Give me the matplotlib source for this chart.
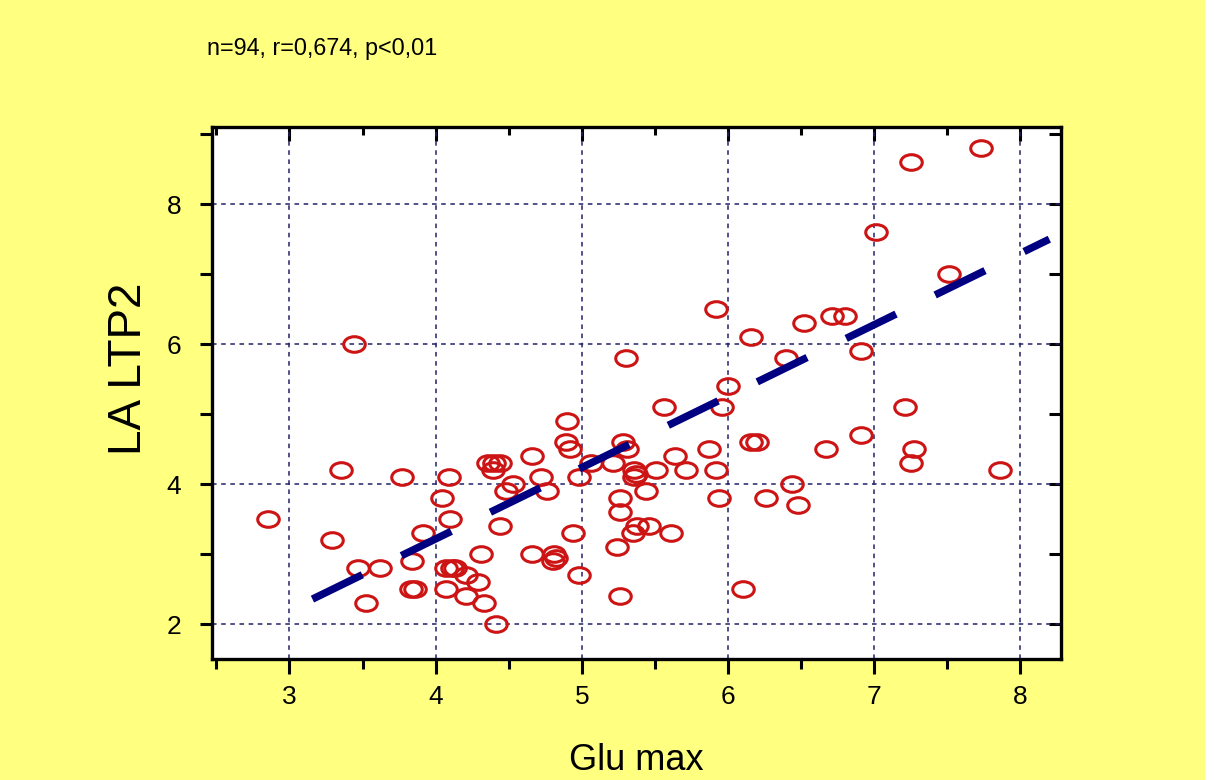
import matplotlib.pyplot as plt
import numpy as np
from matplotlib.path import Path
from matplotlib.patches import Rectangle

# Glu max (x) and LA LTP2 (y)
glu_max = [2.85, 3.29, 3.35, 3.44, 3.47, 3.52, 3.62, 3.77, 3.84, 3.83,
           3.86, 3.91, 4.04, 4.07, 4.09, 4.10, 4.07, 4.13, 4.21, 4.21,
           4.29, 4.31, 4.33, 4.41, 4.36, 4.44, 4.39, 4.44, 4.48, 4.53,
           4.66, 4.66, 4.72, 4.76, 4.81, 4.80, 4.90, 4.89, 4.92, 4.94,
           4.98, 4.98, 5.06, 5.21, 5.24, 5.26, 5.26, 5.26, 5.28, 5.31,
           5.30, 5.36, 5.36, 5.35, 5.38, 5.44, 5.46, 5.51, 5.56, 5.61,
           5.64, 5.71, 5.87, 5.92, 5.92, 5.94, 5.96, 6.00, 6.10, 6.16,
           6.16, 6.20, 6.26, 6.40, 6.44, 6.48, 6.52, 6.67, 6.71, 6.80,
           6.91, 6.91, 7.01, 7.21, 7.25, 7.25, 7.27, 7.51, 7.73, 7.86,
           4.40, 4.82, 5.37, 4.11]
la_ltp2 = [3.5, 3.2, 4.2, 6.0, 2.8, 2.3, 2.8, 4.1, 2.9, 2.5,
           2.5, 3.3, 3.8, 2.5, 4.1, 3.5, 2.8, 2.8, 2.7, 2.4,
           2.6, 3.0, 2.3, 2.0, 4.3, 4.3, 4.2, 3.4, 3.9, 4.0,
           4.4, 3.0, 4.1, 3.9, 3.0, 2.9, 4.9, 4.6, 4.5, 3.3,
           2.7, 4.1, 4.3, 4.3, 3.1, 3.8, 3.6, 2.4, 4.6, 4.5,
           5.8, 4.2, 4.1, 3.3, 3.4, 3.9, 3.4, 4.2, 5.1, 3.3,
           4.4, 4.2, 4.5, 6.5, 4.2, 3.8, 5.1, 5.4, 2.5, 6.1,
           4.6, 4.6, 3.8, 5.8, 4.0, 3.7, 6.3, 4.5, 6.4, 6.4,
           5.9, 4.7, 7.6, 5.1, 8.6, 4.3, 4.5, 7.0, 8.8, 4.2,
           4.3, 2.95, 4.15, 2.8]

# regression line as drawn
fit_slope = 1.02
fit_intercept = -0.863
fit_range = [3.157, 8.198]

x_major = [3, 4, 5, 6, 7, 8]
x_minor = [2.5, 3.5, 4.5, 5.5, 6.5, 7.5]
y_major = [2, 4, 6, 8]
y_minor = [3, 5, 7, 9]

stats_text = 'n=94, r=0,674, p<0,01'

bg = '#ffff80'
plt.rcParams['font.family'] = ['Liberation Sans', 'DejaVu Sans']

fig = plt.figure(figsize=(12.15, 7.8), dpi=100)
fig.set_facecolor(bg)
ax = fig.add_axes([0.1745, 0.155, 0.699, 0.682])
ax.set_facecolor('white')

# dotted grid
for gx in x_major:
    ax.axvline(gx, color='#22226a', lw=1.1, ls=(0, (3, 3)), zorder=1)
for gy in y_major:
    ax.axhline(gy, color='#22226a', lw=1.1, ls=(0, (3, 3)), zorder=1)

# open ellipse markers
circ = Path.unit_circle()
ellipse = Path(circ.vertices * np.array([1.38, 1.0]), circ.codes)
ax.plot(glu_max, la_ltp2, ls='none', marker=ellipse, ms=15.5,
        mfc='none', mec='#cc1414', mew=2.2, zorder=3)

# dashed regression line
fx = np.array(fit_range)
ax.plot(fx, fit_slope * fx + fit_intercept, color='#000080', lw=5.4,
        dashes=(7.4, 5.8), solid_capstyle='butt', dash_capstyle='butt', zorder=4)

ax.set_xlim(2.47, 8.28)
ax.set_ylim(1.5, 9.1)

for s in ax.spines.values():
    s.set_linewidth(2.4)
    s.set_color('black')

ax.set_xticks(x_major)
ax.set_xticks(x_minor, minor=True)
ax.set_yticks(y_major)
ax.set_yticks(y_minor, minor=True)

ax.tick_params(axis='x', which='major', direction='out', length=11, width=2.2,
               labelsize=19, pad=8)
ax.tick_params(axis='x', which='minor', direction='out', length=7, width=2.2)
ax.tick_params(axis='y', which='both', direction='out', length=9, width=2.2,
               labelsize=19, pad=13)

# inward ticks on the top and right edges
top = ax.secondary_xaxis('top')
top.set_xticks(x_major)
top.set_xticks(x_minor, minor=True)
top.tick_params(which='major', direction='in', length=10, width=2.2, labeltop=False)
top.tick_params(which='minor', direction='in', length=6, width=2.2)
top.spines['top'].set_visible(False)
right = ax.secondary_yaxis('right')
right.set_yticks(y_major)
right.set_yticks(y_minor, minor=True)
right.tick_params(which='both', direction='in', length=9, width=2.2, labelright=False)
right.spines['right'].set_visible(False)

ax.set_xlabel('Glu max', fontsize=26, labelpad=24)
ax.set_ylabel('LA LTP2', fontsize=33)
ax.yaxis.set_label_coords(-0.072, 0.545)

fig.text(0.17, 0.938, stats_text, fontsize=16.8, ha='left', va='center')

# thin white strip on the right border
fig.patches.append(Rectangle((0.992, 0), 0.008, 1, transform=fig.transFigure,
                             facecolor='white', edgecolor='none'))

fig.savefig('out.png', dpi=100, facecolor=bg)
